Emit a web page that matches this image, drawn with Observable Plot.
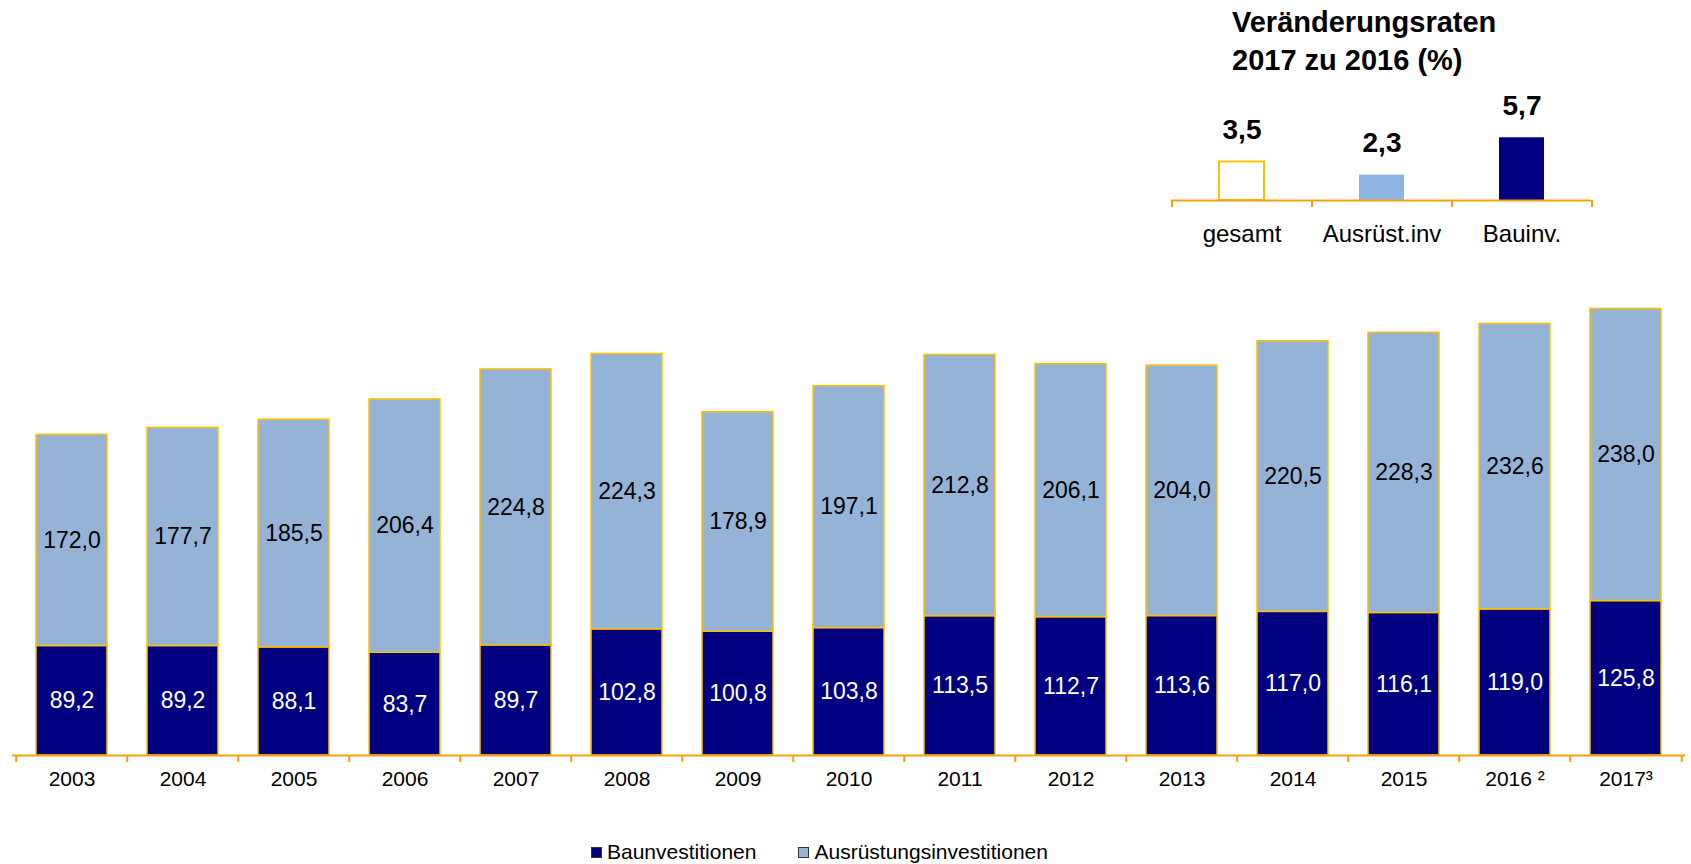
<!DOCTYPE html>
<html>
<head>
<meta charset="utf-8">
<script src="https://cdn.jsdelivr.net/npm/d3@7"></script>
<script src="https://cdn.jsdelivr.net/npm/@observablehq/plot@0.6"></script>
<style>
  body { margin: 0; background: #fff; font-family: "Liberation Sans", Arial, sans-serif; }
  #wrap { position: relative; width: 1691px; height: 864px; overflow: hidden; }
  #main { position: absolute; left: 0; top: 0; }
  #inset { position: absolute; left: 1150px; top: 80px; }
  #title { position: absolute; left: 1232px; top: 3px; font-weight: bold; font-size: 29px; line-height: 38px; color: #000; }
  #legend { position: absolute; left: 591px; top: 840px; font-size: 21px; line-height: 24px; color: #000; display: flex; align-items: center; white-space: nowrap; }
  .sw { display: inline-block; width: 9px; height: 9px; margin-right: 5px; border: 0.5px solid #333; }
</style>
</head>
<body>
<div id="wrap">
  <div id="main"></div>
  <div id="title">Veränderungsraten<br>2017 zu 2016 (%)</div>
  <div id="inset"></div>
  <div id="legend">
    <span class="sw" style="background:#000080"></span><span>Baunvestitionen</span>
    <span class="sw" style="background:#95B3D7;margin-left:42px"></span><span>Ausrüstungsinvestitionen</span>
  </div>
</div>
<script>
// ---- data ----
const years = ["2003","2004","2005","2006","2007","2008","2009","2010","2011","2012","2013","2014","2015","2016","2017"];
const bau = [89.2,89.2,88.1,83.7,89.7,102.8,100.8,103.8,113.5,112.7,113.6,117.0,116.1,119.0,125.8];
const ausr = [172.0,177.7,185.5,206.4,224.8,224.3,178.9,197.1,212.8,206.1,204.0,220.5,228.3,232.6,238.0];
const yearLabels = {"2016": "2016 ²", "2017": "2017³"};
const seriesNames = ["Baunvestitionen", "Ausrüstungsinvestitionen"];

const rateCats = ["gesamt", "Ausrüst.inv", "Bauinv."];
const rates = [3.5, 2.3, 5.7];

// ---- styles ----
const colBau = "#000080", colAusr = "#95B3D7", colEdge = "#FFC000", colAxis = "#F0A30A";
const fmt = v => v.toFixed(1).replace(".", ",");

const rows = [];
years.forEach((y, i) => rows.push({year: y, series: seriesNames[0], value: bau[i]}));
years.forEach((y, i) => rows.push({year: y, series: seriesNames[1], value: ausr[i]}));

// ---- main chart ----
const W = 1691, H = 810, mL = 12, mR = 6;
const step = (W - mL - mR) / years.length;
const main = Plot.plot({
  width: W, height: H,
  marginLeft: mL, marginRight: mR, marginTop: 264, marginBottom: 55,
  style: {fontFamily: "Liberation Sans, Arial, sans-serif", fontSize: "21px", color: "#000", background: "transparent"},
  x: {domain: years, paddingInner: 0.36, paddingOuter: 0.18, axis: null, label: null},
  y: {domain: [0, 400], axis: null, label: null},
  marks: [
    Plot.barY(rows, Plot.stackY({x: "year", y: "value", z: "series",
      fill: d => d.series === seriesNames[0] ? colBau : colAusr,
      stroke: colEdge, strokeWidth: 1.5})),
    Plot.text(rows, Plot.stackY({x: "year", y: "value", z: "series",
      text: d => fmt(d.value),
      fill: d => d.series === seriesNames[0] ? "#fff" : "#000",
      fontSize: 23, lineAnchor: "middle"})),
    Plot.ruleY([0], {stroke: colAxis, strokeWidth: 2}),
    Plot.ruleX(years, {x: d => d, y1: 0, y2: 0, insetBottom: -7, dx: -step / 2, stroke: colAxis, strokeWidth: 2}),
    Plot.ruleX(years.slice(-1), {x: d => d, y1: 0, y2: 0, insetBottom: -7, dx: step / 2, stroke: colAxis, strokeWidth: 2}),
    Plot.axisX({tickSize: 0, tickPadding: 16, fontSize: 21, label: null, tickFormat: d => yearLabels[d] || d})
  ]
});
document.getElementById("main").appendChild(main);

// ---- inset chart ----
const IW = 460, IH = 180, iL = 21, iR = 19;
const istep = (IW - iL - iR) / rateCats.length;
const inset = Plot.plot({
  width: IW, height: IH,
  marginLeft: iL, marginRight: iR, marginTop: 32, marginBottom: 60,
  style: {fontFamily: "Liberation Sans, Arial, sans-serif", fontSize: "24px", color: "#000", background: "transparent"},
  x: {domain: rateCats, paddingInner: 0.68, paddingOuter: 0.34, axis: null, label: null},
  y: {domain: [0, 8], axis: null, label: null},
  marks: [
    Plot.barY(rateCats.map((c, i) => ({cat: c, v: rates[i]})), {
      x: "cat", y: "v",
      fill: d => d.cat === "gesamt" ? "#fff" : d.cat === "Bauinv." ? colBau : "#8DB4E2",
      stroke: d => d.cat === "gesamt" ? colEdge : "none", strokeWidth: 2
    }),
    Plot.text(rateCats.map((c, i) => ({cat: c, v: rates[i]})), {
      x: "cat", y: "v", text: d => fmt(d.v), dy: -23, lineAnchor: "bottom",
      fontSize: 28, fontWeight: "bold"
    }),
    Plot.ruleY([0], {stroke: colAxis, strokeWidth: 2}),
    Plot.ruleX(rateCats, {x: d => d, y1: 0, y2: 0, insetBottom: -7, dx: -istep / 2, stroke: colAxis, strokeWidth: 2}),
    Plot.ruleX(rateCats.slice(-1), {x: d => d, y1: 0, y2: 0, insetBottom: -7, dx: istep / 2, stroke: colAxis, strokeWidth: 2}),
    Plot.axisX({tickSize: 0, tickPadding: 24, fontSize: 24, label: null})
  ]
});
document.getElementById("inset").appendChild(inset);
</script>
</body>
</html>
